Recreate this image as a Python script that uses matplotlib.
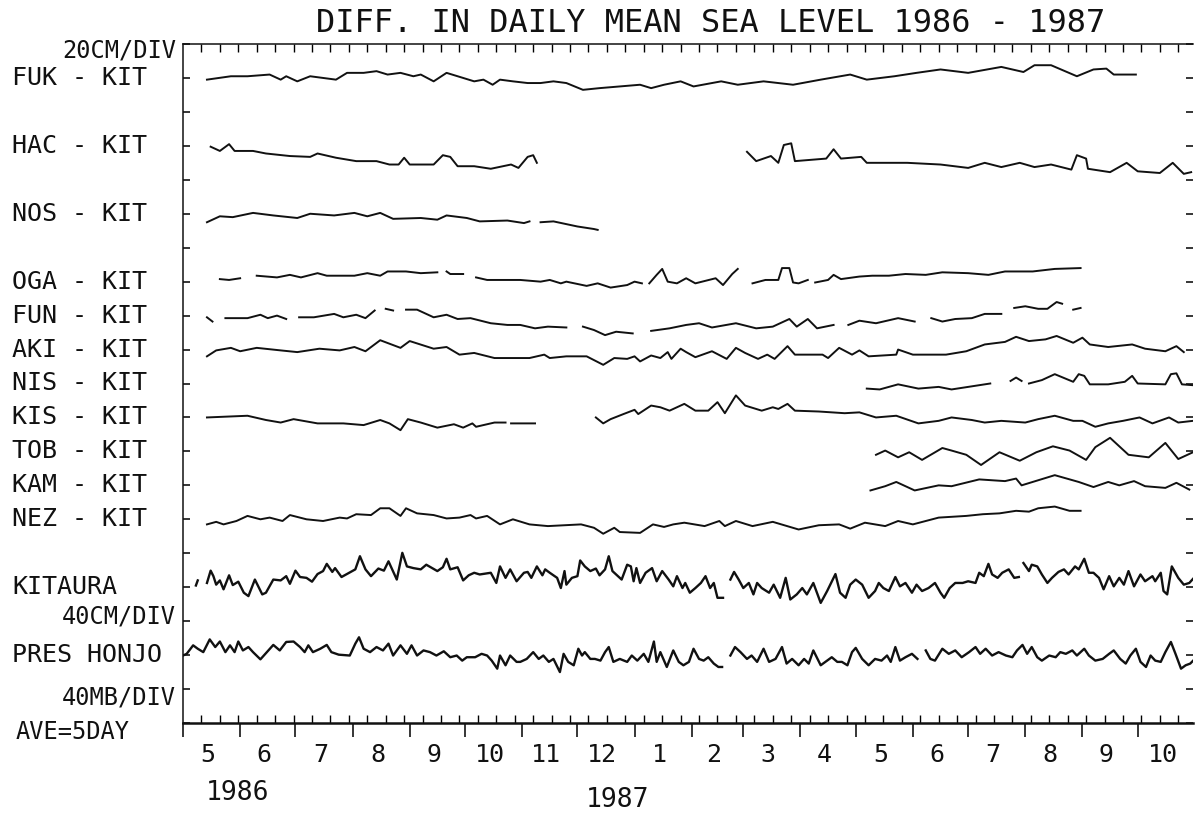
import numpy as np
import matplotlib
matplotlib.use('Agg')
import matplotlib.pyplot as plt

# x = days since 1 May 1986, value = cm (or mb for pressure); None = gap in record
FUK = [(13, -1), (26, 1), (35, 1), (47, 2), (53, -1), (56, 1), (62, -2), (69, 1), (76, 0), (83, -1),
       (89, 3), (98, 3), (105, 4), (111, 2), (118, 3), (125, 1), (129, 2), (136, -2), (143, 3), (152, 0),
       (158, -2), (163, -1), (168, -4), (172, -1), (179, -2), (187, -3), (194, -3), (201, -2), (208, -3),
       (217, -7), (226, -6), (237, -5), (248, -4), (254, -6), (261, -4), (270, -2), (277, -5), (292, -2),
       (301, -4), (315, -2), (331, -4), (346, -1), (362, 2), (371, -1), (386, 1), (398, 3), (411, 5),
       (426, 3), (444, 6.5), (456, 3.5), (462, 7.5), (471, 7.5), (485, 1), (494, 5), (501, 5.5),
       (505, 2), (517, 2)]

HAC = [(15, -0.5), (20, -3), (25, 1), (28, -3), (38, -3), (45, -4.5), (58, -6), (69, -6.5), (73, -4.5),
       (83, -7), (94, -9), (105, -9), (112, -11), (117, -11), (120, -7), (123, -11), (136, -11),
       (141, -5.5), (145, -6.5), (149, -12), (158, -12), (167, -13.5), (178, -11), (182, -13),
       (187, -6.5), (190, -5.5), (192, -10), None,
       (306, -3.5), (311, -9), (319, -6), (323, -10), (326, 0.5), (330, 1.5), (332, -9), (349, -7.5),
       (353, -2), (357, -7.5), (368, -6.5), (371, -10), (393, -10), (411, -11), (426, -13), (435, -10),
       (444, -12.5), (454, -10), (462, -12.5), (471, -11), (482, -14), (485, -5.5), (490, -7.5),
       (491, -13.5), (503, -15.5), (512, -10), (518, -15), (530, -16), (537, -10), (543, -16.5),
       (547, -15.5)]

NOS = [(13, -5), (20, -1.5), (27, -2), (38, 0.5), (49, -1), (62, -2.5), (69, 0), (82, -1), (93, 0.5),
       (100, -1.5), (107, 0.5), (114, -3), (129, -2.5), (138, -3.5), (143, -1), (154, -2.5), (161, -4.5),
       (176, -4), (185, -5.5), (188, -4.5), None,
       (194, -5), (201, -4.5), (214, -7.5), (223, -9), (225, -9.5)]

OGA = [(20, 1.5), (25, 1), (31, 2), None,
       (40, 3.5), (51, 2.5), (58, 4), (64, 2.5), (73, 5), (78, 3.5), (93, 3.5), (100, 5), (107, 3.5),
       (111, 6), (121, 6), (129, 5), (138, 5.5), None,
       (143, 6), (145, 4.5), (152, 4.5), None,
       (159, 2.5), (165, 1), (176, 1), (183, 1), (194, 0), (199, 1), (205, -1), (208, 0), (219, -2.5),
       (225, -1), (232, -3.5), (241, -2), (245, 0), (249, -1), None,
       (253, -1), (257, 4), (260, 7.5), (263, 0), (268, -1), (273, 2), (278, -1), (289, 2), (293, -2),
       (298, 4.5), (301, 7.5), None,
       (309, -1), (316, 1), (323, 1), (325, 8), (329, 8), (331, -0.5), (334, -1), (339, 1), None,
       (343, -0.5), (350, 1), (353, 4), (357, 1.5), (367, 3), (374, 3.5), (383, 3.5), (392, 4.5),
       (403, 4), (412, 5.5), (426, 5), (437, 4), (446, 6), (461, 6), (473, 7.5), (487, 8)]

FUN = [(13, -1), (16, -3.5), None,
       (23, -1.5), (29, -1.5), (35, -1.5), (42, 0.5), (46, -1.5), (51, 0), (56, -2), None,
       (63, -1), (71, -1), (82, 1), (87, -1), (94, 0.5), (99, -1.5), (104, 3), None,
       (110, 4), (114, 3), None,
       (121, 3.5), (127, 3.5), (136, -1), (143, 0.5), (149, -2), (156, -1.5), (167, -4.5), (176, -5.5),
       (183, -5.5), (191, -7.5), (198, -6.5), (208, -7), None,
       (217, -6.5), (223, -8.5), (229, -11.5), (235, -9.5), (244, -10.5), None,
       (254, -9), (264, -7.5), (273, -5.5), (280, -4.5), (287, -7), (300, -4.5), (311, -7.5),
       (320, -6.5), (329, -2), (333, -6.5), (339, -2), (344, -7.5), (353, -5.5), None,
       (361, -5.5), (367, -3), (376, -4.5), (388, -1.5), (397, -3.5), None,
       (406, -1.5), (412, -3.5), (419, -2), (428, -1.5), (435, 1), (444, 1), None,
       (451, 4.5), (457, 5.5), (464, 4), (469, 4), (474, 8), (477, 7), None,
       (483, 3.5), (487, 4.5)]

AKI = [(13, -4), (18, -0.5), (26, 1), (31, -1), (40, 1), (53, -0.5), (62, -1.5), (74, 0.5), (85, -0.5),
       (93, 1.5), (99, -1), (107, 5.5), (118, 1), (123, 5), (136, 0.5), (143, 1.5), (150, -3), (158, -2),
       (169, -5), (188, -5), (196, -3), (199, -5), (208, -4), (219, -4), (228, -9), (234, -5),
       (241, -5.5), (245, -4), (248, -7), (254, -3.5), (259, -5), (263, -1.5), (265, -5.5), (270, 0.5),
       (273, -1.5), (278, -4.5), (287, -1), (295, -5.5), (300, 1), (305, -2), (312, -5.5), (317, -3),
       (321, -5.5), (328, 2), (332, -3), (347, -3), (350, -5), (356, 1), (363, -3), (367, -0.5),
       (372, -4), (387, -3), (388, 0), (396, -3), (414, -3), (425, -1), (435, 3), (446, 4.5), (452, 7.5),
       (459, 5), (468, 6), (474, 8), (483, 4), (488, 7), (492, 3), (502, 1.5), (515, 3), (522, 0.5),
       (533, -1), (539, 2), (543, -1.5)]

NIS = [(371, -3), (378, -3.5), (388, -0.5), (399, -3), (410, -2), (417, -3.5), (426, -2), (438, 0), None,
       (449, 1.5), (452, 3.5), (455, 1.5), None,
       (459, 0), (466, 2), (473, 5.5), (483, 1), (486, 5.5), (489, 4.5), (492, -0.5), (502, -0.5),
       (511, 1), (515, 4.5), (518, 0), (533, -0.5), (536, 5.5), (539, 6), (542, -0.5), (548, -1)]

KIS = [(13, 0), (24, 0.5), (35, 1), (45, -1.5), (53, -3), (60, -1), (73, -3.5), (87, -3.5), (98, -4.5),
       (107, -1.5), (112, -3.5), (118, -7.5), (122, -1), (129, -3), (138, -6), (147, -4), (152, -6),
       (157, -3.5), (159, -5.5), (169, -3), (175, -3), None,
       (178, -3.5), (191, -3.5), None,
       (224, 0), (228, -3.5), (232, -1), (239, 2), (245, 4.5), (247, 2), (254, 7), (259, 6), (264, 4),
       (272, 8), (278, 4), (285, 4), (290, 9), (294, 2.5), (300, 13), (305, 7), (314, 4), (320, 6),
       (323, 5), (328, 8), (332, 4), (345, 3.5), (359, 2.5), (367, 3), (376, 0), (387, 1), (399, -3.5),
       (410, -2), (417, 0), (428, -1.5), (435, -3), (444, -2), (457, -3), (464, -1), (473, 1), (483, -2),
       (488, -2), (495, -5.5), (502, -3.5), (510, -2), (519, 0), (526, -3.5), (535, 0), (540, -3),
       (548, -2)]

TOB = [(376, -2), (381, 0.5), (388, -3.5), (394, -0.5), (401, -5), (412, 2), (417, 0.5), (425, -2),
       (433, -8), (443, -0.5), (454, -5.5), (463, -0.5), (472, 3), (481, 0.5), (490, -5), (495, 2.5),
       (503, 8), (513, -2), (524, -3.5), (533, 5), (540, -4.5), (548, -0.5)]

KAM = [(373, -3), (381, -0.5), (387, 2), (397, -3), (410, 0), (417, -0.5), (432, 3.5), (446, 2.5),
       (452, 4), (455, 0), (464, 3), (473, 6), (486, 2), (494, -1), (502, 2), (508, 0), (516, 2.5),
       (522, -0.5), (533, -1.5), (539, 1.5), (546, -2.5)]

NEZ = [(13, -3), (18, -1.5), (22, -3), (29, -1), (35, 2), (42, 0), (47, 1), (54, -1), (58, 2.5), (67, 0),
       (76, -1), (85, 1), (89, 0.5), (94, 3), (102, 2.5), (107, 6.5), (112, 6.5), (118, 2), (121, 6.5),
       (127, 3.5), (136, 2.5), (143, 0.5), (150, 1), (156, 2.5), (159, 0.5), (165, 2), (172, -3),
       (179, 0), (188, -3), (198, -4), (216, -3), (223, -5), (228, -8.5), (234, -5), (237, -7.5),
       (248, -8), (255, -3), (261, -4.5), (266, -3), (272, -2), (283, -4), (291, -1), (294, -4),
       (300, -1), (309, -4), (320, -1.5), (334, -6), (345, -3.5), (356, -3), (362, -5.5), (370, -2),
       (381, -4), (388, -1), (396, -3), (410, 1), (425, 2), (434, 3), (443, 3.5), (452, 5), (459, 4.5),
       (464, 6.5), (473, 7.5), (481, 5), (487, 5)]

KITAURA = [(7, 2), (8, 8), None,
           (13, 5), (15, 19.5), (16.5, 13), (18, 3), (20, 8), (22, -2.5), (25, 14), (27, 2.5), (30, 6.5),
           (33, -6.5), (35.5, -10.5), (39, 9), (43, -8.5), (45, -6.5), (49, 9), (53, 8), (56, 13), (58, 4),
           (61, 19.5), (63.5, 12), (67, 11), (70, 6.5), (73, 15.5), (76, 19), (78, 27.5), (81, 18),
           (82.5, 22.5), (86, 12), (91, 18), (93.5, 21), (96, 36.5), (99, 21), (102, 13), (106, 22),
           (109, 19.5), (111.5, 30.5), (116, 9), (119, 40.5), (121.5, 24.5), (125, 22.5), (129, 21),
           (132, 26.5), (138, 19), (141, 23.5), (143, 33.5), (145, 21), (149, 23.5), (152, 8), (155, 14),
           (158, 17), (161, 15), (167, 17), (170, 5), (172, 24.5), (175, 11), (177.5, 21), (181, 7),
           (185, 17), (187, 18), (189, 11), (192, 24.5), (195, 14), (196.5, 21), (199, 17), (203, 11),
           (205, -1), (207, 19), (208, 3), (211, 11), (214, 13), (215.5, 31.5), (218, 24.5), (221, 19),
           (224, 22), (226, 14), (229, 21), (231, 36.5), (233, 19), (235, 15), (238, 9), (241, 26.5),
           (243, 24.5), (244.5, 7), (246, 22.5), (248, 5), (251, 17), (254.5, 22.5), (257, 7), (260, 19),
           (263.5, 9), (266, 1), (268, 13), (271, -1), (272.5, 5), (275, -6.5), (278, -1), (281, 5),
           (283.5, 13), (286, -1), (288, 5), (290, -12.5), (293, -12.5), None,
           (297, 9), (299, 18), (301.5, 9), (304, -1), (307, 5), (309.5, -8.5), (311.5, 5), (314, -1),
           (318, -6.5), (320.5, 3), (324, -12.5), (327, 11), (329.5, -14.5), (333, -8.5), (336, -1),
           (338.5, -8.5), (342, 5), (346, -18.5), (349.5, -4.5), (354, 15.5), (356.5, -6.5),
           (359.5, -12.5), (362, 3), (365, 9), (368.5, 3), (372, -12.5), (375.5, -4.5), (377.5, 5),
           (380, -1), (383, -4.5), (386.5, 12), (389, 1), (392, 5), (395.5, -6.5), (398, 3), (401, -4.5),
           (404.5, -1), (408, 5), (411, -6.5), (413, -12.5), (416, -1), (419, 5), (423, 5), (426, 7),
           (430, 5), (432, 17), (434.5, 13), (437, 27.5), (439, 15), (442, 11), (444.5, 17), (448, 21),
           (451, 11), (453.5, 12), None,
           (456, 28.5), (459, 19), (460.5, 26.5), (463.5, 24.5), (466, 15), (469, 5), (471.5, 11),
           (475, 18), (478, 21), (480.5, 15), (484, 24.5), (486, 21), (489, 33.5), (491.5, 17), (494, 17),
           (497, 11), (499.5, -2.5), (502.5, 13), (505, 1), (508, 11), (510.5, 3), (513, 19), (516, 1),
           (519.5, 15), (522, 7), (526, 13), (527.5, 7), (530.5, 17), (532, -4.5), (534, -8.5),
           (536.5, 24.5), (540, 11), (543, 3), (546, 5), (548.5, 11)]

PRES_HONJO = [(0, -0.5), (2, 1.5), (5.5, 11.5), (8, 7.5), (11, 3.5), (14.5, 18.5), (17.5, 9.5), (20, 16),
              (23, 3.5), (25.5, 11.5), (28, 3.5), (30, 16), (32.5, 5.5), (35.5, 9.5), (38, 3.5), (42, -5),
              (45.5, 3.5), (49, 12), (52.5, 5.5), (56, 15.5), (60, 16), (63.5, 9.5), (66, 3.5), (68, 11.5),
              (70.5, 3.5), (74.5, 7.5), (78, 12), (80.5, 3.5), (84.5, 0.5), (90.5, -0.5), (93.5, 13.5),
              (95.5, 21), (98, 7.5), (101.5, 3.5), (105, 9.5), (108.5, 5.5), (111.5, 13.5), (114, -0.5),
              (118, 11.5), (121.5, 1.5), (124, 11.5), (127, -0.5), (130.5, 5.5), (134, 3.5), (137.5, -0.5),
              (141.5, 4.5), (145, -2.5), (148.5, -0.5), (151.5, -6.5), (154, -2.5), (158.5, -2.5),
              (162, 1.5), (165, -0.5), (167.5, -6.5), (170.5, -16), (172, -0.5), (175, -12), (177.5, -0.5),
              (181, -8), (183, -8), (186.5, -4.5), (190, 3.5), (193, -4.5), (195.5, -0.5), (198.5, -8),
              (201, -4.5), (204.5, -20), (206.5, 1.5), (209, -8), (212, -12), (214.5, 7.5), (216.5, -0.5),
              (218, 3.5), (221, -4.5), (223.5, -4.5), (226.5, -6.5), (229, 3.5), (231, 9.5), (233.5, -8),
              (237, -4.5), (241, -8), (243.5, -0.5), (246.5, -6.5), (250, 1.5), (252.5, -8), (255.5, 16),
              (257, -8), (259, 3.5), (262.5, -14), (266, 5.5), (269, -8), (271.5, -12), (274.5, -8),
              (277, 7.5), (280, -4.5), (282.5, -6.5), (285, -2.5), (288, -10), (290.5, -14), (292.5, -14),
              None,
              (297, -0.5), (299.5, 9.5), (302.5, 3.5), (306, -4.5), (308.5, -0.5), (311.5, -8), (315, 7.5),
              (318, -8), (321.5, -4.5), (325, 9.5), (327.5, -10), (330.5, -4.5), (334, -12), (337, -4.5),
              (339.5, -10), (342, 5.5), (346, -12), (348.5, -8), (352, -2.5), (355, -8), (357.5, -8),
              (360.5, -12), (363, 3.5), (365, 8.5), (368.5, -4.5), (372, -12), (375.5, -4.5), (379, -6.5),
              (382, -0.5), (384, -8), (386.5, 9.5), (389, -6.5), (392, -2.5), (395.5, 1.5), (398.5, -4.5),
              None,
              (403, 5.5), (405.5, -4.5), (408, -6.5), (412, 7.5), (415.5, 1.5), (419, 5.5), (422.5, -2.5),
              (426.5, 3.5), (430, 9.5), (432.5, 1.5), (435.5, 7.5), (439, -0.5), (442.5, 3.5),
              (446.5, -0.5), (450, -2.5), (452.5, 5.5), (455.5, 12), (458, 1.5), (460.5, 9.5),
              (463.5, -2.5), (466, -6.5), (470, -0.5), (473.5, -2.5), (476, 3.5), (479, 1.5), (482.5, 5.5),
              (485, -0.5), (489, 7.5), (491.5, -0.5), (495, -6.5), (499, -4.5), (502.5, 1.5), (505, 5.5),
              (508.5, -4.5), (511.5, -10), (514, -0.5), (517, 7.5), (519.5, -8), (522.5, -14), (525, -0.5),
              (527.5, -6.5), (530.5, -8), (533, 3.5), (536, 15.5), (538.5, 1.5), (541.5, -16), (544, -12),
              (546.5, -10), (549, -4.5)]

# label, row on the 20-division grid (0 = top), data, units per division
ROWS = [
    ('FUK - KIT', 1, FUK, 20), ('HAC - KIT', 3, HAC, 20), ('NOS - KIT', 5, NOS, 20),
    ('OGA - KIT', 7, OGA, 20), ('FUN - KIT', 8, FUN, 20), ('AKI - KIT', 9, AKI, 20),
    ('NIS - KIT', 10, NIS, 20), ('KIS - KIT', 11, KIS, 20), ('TOB - KIT', 12, TOB, 20),
    ('KAM - KIT', 13, KAM, 20), ('NEZ - KIT', 14, NEZ, 20),
    ('KITAURA', 16, KITAURA, 40), ('PRES HONJO', 18, PRES_HONJO, 40),
]
MONTH_LABELS = ['5', '6', '7', '8', '9', '10', '11', '12', '1', '2', '3', '4',
                '5', '6', '7', '8', '9', '10']

FONT = 'DejaVu Sans Mono'
INK = '#111111'
W, H = 1195, 815

fig = plt.figure(figsize=(W / 100, H / 100), dpi=100)
fig.patch.set_facecolor('white')
ax = fig.add_axes([183 / W, 1 - 723 / H, 1010 / W, 679 / H])
ax.set_xlim(0, 548)
ax.set_ylim(20, 0)


def unpack(pairs):
    xs, ys = [], []
    for p in pairs:
        if p is None:
            xs.append(np.nan)
            ys.append(np.nan)
        else:
            xs.append(p[0])
            ys.append(p[1])
    return np.array(xs, dtype=float), np.array(ys, dtype=float)


for label, row, data, per_div in ROWS:
    xs, vals = unpack(data)
    lw = 1.7 if per_div == 40 else 1.4
    ax.plot(xs, row - vals / per_div, color=INK, lw=lw, solid_joinstyle='round')
    ax.text(-0.1693, row, label, transform=ax.get_yaxis_transform(), ha='left', va='center',
            fontsize=18, family=FONT, color=INK, clip_on=False)

# scale notes; rows converted from pixel heights of the reference (34 px per division)
for txt, row in [('20CM/DIV', 0.18), ('40CM/DIV', 16.85), ('40MB/DIV', 19.26)]:
    ax.text(-0.0069, row, txt, transform=ax.get_yaxis_transform(), ha='right', va='center',
            fontsize=17, family=FONT, color=INK, clip_on=False)
ax.text(-0.166, 20.27, 'AVE=5DAY', transform=ax.get_yaxis_transform(), ha='left', va='center',
        fontsize=17, family=FONT, color=INK, clip_on=False)

# month boundaries and centres from the calendar
start = np.datetime64('1986-05-01')
months = np.arange('1986-05', '1987-12', dtype='datetime64[M]').astype('datetime64[D]')
bounds = (months - start).astype(int)
ax.set_xticks(bounds[:-1])
ax.set_xticks(np.arange(10, 548, 10), minor=True)
ax.tick_params(axis='x', which='major', bottom=True, top=False, direction='out', length=10,
               width=1.1, labelbottom=False)
ax.tick_params(axis='x', which='minor', bottom=True, top=True, direction='in', length=6, width=1.0)
ax.set_yticks(np.arange(0, 21))
ax.tick_params(axis='y', which='major', left=True, right=True, direction='in', length=5, width=1.1,
               labelleft=False)

centres = (bounds[:-1] + bounds[1:]) / 2
for c, lab in zip(centres, MONTH_LABELS):
    ax.text(c - 2, -0.047, lab, transform=ax.get_xaxis_transform(), ha='center', va='center',
            fontsize=18, family=FONT, color=INK)

fig.text(238 / W, 1 - 793 / H, '1986', ha='center', va='center', fontsize=19, family=FONT, color=INK)
fig.text(618 / W, 1 - 800 / H, '1987', ha='center', va='center', fontsize=19, family=FONT, color=INK)
fig.text(711 / W, 1 - 23 / H, 'DIFF. IN DAILY MEAN SEA LEVEL 1986 - 1987', ha='center', va='center',
         fontsize=23, family=FONT, color=INK)

ax.spines['right'].set_visible(False)
ax.spines['left'].set_linewidth(1.1)
ax.spines['top'].set_linewidth(1.1)
ax.spines['bottom'].set_linewidth(1.8)
for s in ax.spines.values():
    s.set_color(INK)

fig.savefig('out.png', dpi=100, facecolor='white')
